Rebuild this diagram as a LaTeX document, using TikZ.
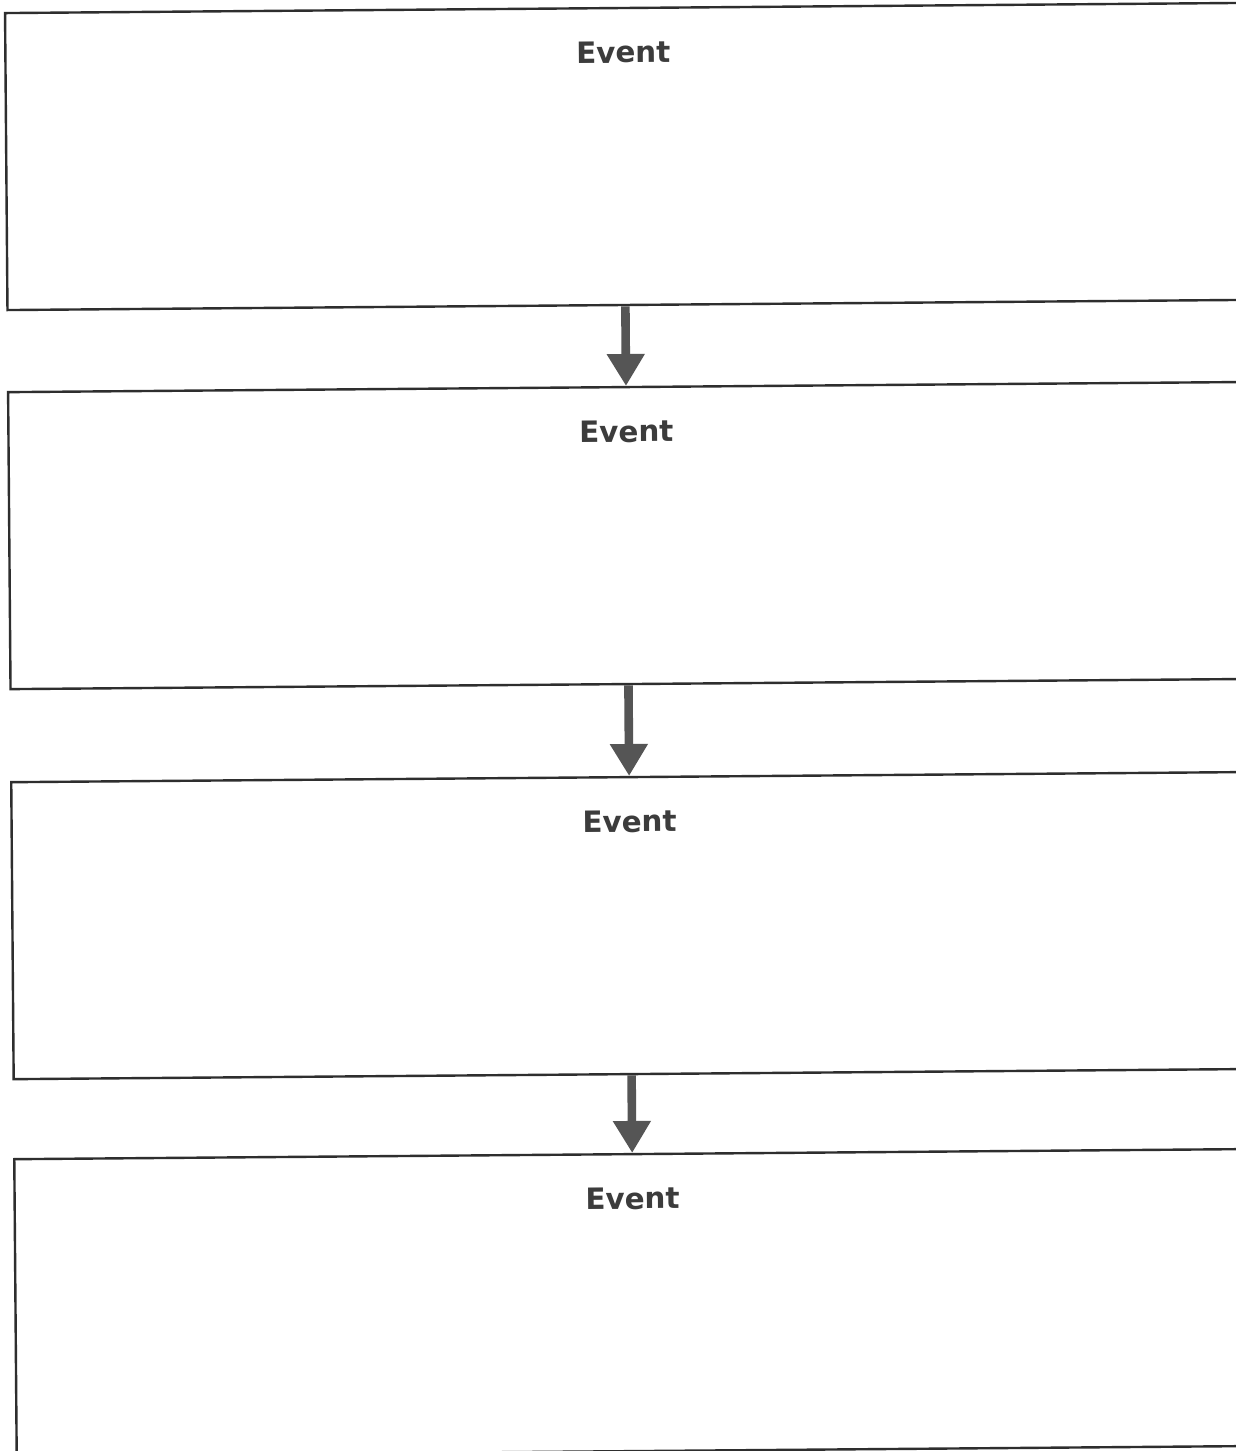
\documentclass[tikz,border=0pt]{standalone}
\usepackage{fontspec}
\newfontfamily\eventfont{DejaVu Sans}
\usetikzlibrary{positioning, arrows.meta}

\definecolor{boxline}{HTML}{2E2E2E}
\definecolor{arrowgray}{HTML}{555555}
\definecolor{titlegray}{HTML}{3C3C3C}

\tikzset{
	eventbox/.style={draw=boxline, line width=1.2pt, rectangle, inner sep=0pt,
		minimum width=618pt, minimum height=148.5pt,
		label={[anchor=base, yshift=-28pt, text=titlegray,
			font=\eventfont\fontsize{14.7pt}{17pt}\selectfont\bfseries]north:#1}},
	flowarrow/.style={draw=arrowgray, line width=4.3pt, -{Triangle[width=18pt, length=16pt]}},
}

\begin{document}
\begin{tikzpicture}
	
	\fill[white] (0,0) rectangle (618pt,725.5pt);
	\useasboundingbox (0,0) rectangle (618pt,725.5pt);
	
	\begin{scope}[rotate around={0.47:(313pt,721.5pt)}, transform shape]
	
	% boxes
	\node[eventbox=Event] (ev1) at (311.5pt,647.25pt) {};
	\node[eventbox=Event, below=39.8pt of ev1] (ev2) {};
	\node[eventbox=Event, below=45.3pt of ev2] (ev3) {};
	\node[eventbox=Event, below=38.8pt of ev3] (ev4) {};
	
	% arrows
	\draw[flowarrow] (ev1.south) -- (ev2.north);
	\draw[flowarrow] (ev2.south) -- (ev3.north);
	\draw[flowarrow] (ev3.south) -- (ev4.north);
	
	\end{scope}
	
\end{tikzpicture}
\end{document}
